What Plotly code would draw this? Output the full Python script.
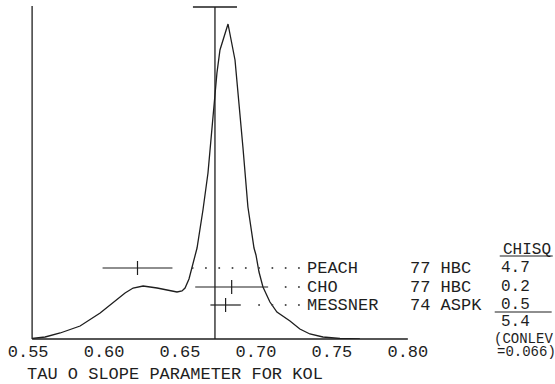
import numpy as np
import plotly.graph_objects as go

# ideogram curve (x = slope parameter, y = arbitrary height)
curve_x = [0.5526, 0.5612, 0.5711, 0.5842, 0.5974, 0.6059, 0.6138, 0.6191, 0.6257,
           0.6349, 0.6434, 0.6480, 0.6513, 0.6533, 0.6559, 0.6586, 0.6612, 0.6651,
           0.6684, 0.6717, 0.6743, 0.6763, 0.6816, 0.6862, 0.6882, 0.6914, 0.6947,
           0.6987, 0.7000, 0.7020, 0.7046, 0.7092, 0.7138, 0.7224, 0.7289, 0.7355,
           0.7441, 0.7553, 0.7684]
curve_y = [0.5, 2, 6, 13, 26, 36, 46, 51, 53,
           51, 48, 47, 48, 51, 60, 77, 91, 129,
           166, 222, 266, 289, 315, 279, 242, 192, 132,
           91, 84, 67, 52, 37, 27, 18, 10, 5,
           2, 0.5, 0]

# measurements
authors = ["PEACH", "CHO", "MESSNER"]
refs = ["77 HBC", "77 HBC", "74 ASPK"]
values = [0.622, 0.684, 0.680]
errors = [0.023, 0.024, 0.010]
chisq = ["4.7", "0.2", "0.5"]
chisq_total = "5.4"
conlev = "0.066"

avg_value = 0.673
avg_error = 0.0145

tick_vals = [0.55, 0.60, 0.65, 0.70, 0.75, 0.80]
tick_text = ["0.55", "0.60", "0.65", "0.70", "0.75", "0.80"]

# layout helpers
XR = [0.5499, 0.8001]
YR = [0, 339]
row_y = [71, 52, 34]
ink = "#1e1e1e"
font = dict(family="Liberation Mono", size=17, color=ink)
x_left = 0.5526
x_lead = 0.7283
dot_step = 0.00875
top_y = 333


def px(x):
    return (x - XR[0]) / (XR[1] - XR[0])


def py(y):
    return (y - YR[0]) / (YR[1] - YR[0])


def label(x, y, text, anchor="left", size=17):
    fig.add_annotation(x=px(x), y=py(y), xref="paper", yref="paper", text=text,
                       xanchor=anchor, yanchor="middle", showarrow=False,
                       font=dict(font, size=size))


def seg(x0, x1, y0, y1, w=1.3):
    fig.add_shape(type="line", xref="paper", yref="paper",
                  x0=px(x0), x1=px(x1), y0=py(y0), y1=py(y1),
                  line=dict(color=ink, width=w))


fig = go.Figure()

fig.add_trace(go.Scatter(x=curve_x, y=curve_y, mode="lines",
                         line=dict(color=ink, width=1.3), hoverinfo="skip"))

for name, ref, v, e, c, yy in zip(authors, refs, values, errors, chisq, row_y):
    fig.add_trace(go.Scatter(x=[v - e, v + e], y=[yy, yy], mode="lines",
                             line=dict(color=ink, width=1.2)))
    fig.add_trace(go.Scatter(x=[v], y=[yy], mode="markers",
                             marker=dict(symbol="line-ns", size=10,
                                         line=dict(color=ink, width=1.2))))
    dots = np.arange(x_lead, v + e + dot_step * 0.6, -dot_step)
    fig.add_trace(go.Scatter(x=dots, y=[yy] * len(dots), mode="markers",
                             marker=dict(size=2, color="#444")))
    label(0.7322, yy, name)
    label(0.80, yy, ref)
    label(0.8707, yy, c, "center", 16)

# weighted average: vertical line plus error bar at the top
seg(avg_value, avg_value, 0, top_y - 1)
seg(avg_value - avg_error, avg_value + avg_error, top_y - 1, top_y - 1)

# frame
seg(x_left, x_left, 0, top_y)
seg(x_left, 0.80, 0, 0)

# chi-square column
label(0.8783, 89, "CHISQ", "center", 16)
seg(0.8605, 0.8954, 83, 83, 1.2)
seg(0.8572, 0.8947, 27, 27, 1.2)
label(0.8707, 17, chisq_total, "center", 16)
label(0.8553, 0, "(CONLEV", size=14)
label(0.8572, -13, "=" + conlev + ")", size=14)

label(0.548, -35, "TAU O SLOPE PARAMETER FOR KOL")

fig.update_layout(
    width=555, height=384,
    margin=dict(l=28, r=147, t=0, b=45),
    paper_bgcolor="white", plot_bgcolor="white",
    showlegend=False,
    font=font,
    xaxis=dict(range=XR, tickvals=tick_vals, ticktext=tick_text, automargin=False,
               showgrid=False, zeroline=False, showline=False, ticks=""),
    yaxis=dict(range=YR, visible=False, automargin=False),
)
fig.update_traces(cliponaxis=False)

# page body has a default 8px margin; drop it so the figure sits at the corner
fig.write_html("out.html", config={"displayModeBar": False},
               post_script="document.body.style.margin='0';")
